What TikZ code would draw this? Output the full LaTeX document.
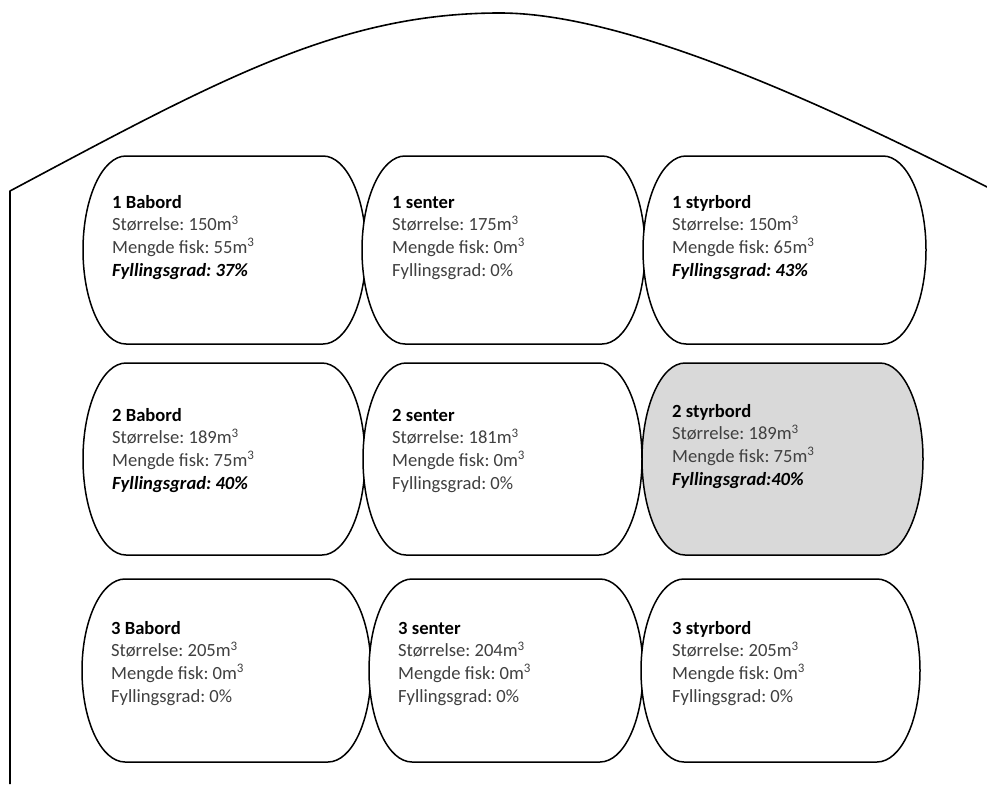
\documentclass[tikz,border=0pt]{standalone}
\usepackage{fontspec}
\setmainfont{Carlito}
\frenchspacing
\definecolor{bodytext}{HTML}{404040}
\definecolor{tankgray}{HTML}{D9D9D9}
\newcommand{\kub}{\raisebox{0.36em}{\fontsize{13}{13}\selectfont 3}}
\newcommand{\tank}[5]{%
  \pgfmathsetmacro{\tmid}{(#3+#4)/2}%
  \pgfmathsetmacro{\tk}{0.5523*(#4-#3)/2}%
  \draw[tankline,#5] ({#1+43},#3) -- ({#2-43},#3)
    .. controls +(23.7,0) and +(0,-\tk) .. (#2,\tmid)
    .. controls +(0,\tk) and +(23.7,0) .. ({#2-43},#4)
    -- ({#1+43},#4)
    .. controls +(-23.7,0) and +(0,\tk) .. (#1,\tmid)
    .. controls +(0,-\tk) and +(-23.7,0) .. ({#1+43},#3) -- cycle;}
\tikzset{
  tankline/.style={draw=black, line width=1.5pt, fill=white},
  hull/.style={draw=black, line width=1.6pt, line join=round},
  info/.style={anchor=base west, inner sep=0pt, font=\fontsize{18.6}{22.8}\selectfont, text=bodytext},
}
\newcommand{\ttl}[1]{\textcolor{black}{\bfseries #1}}
\newcommand{\fyl}[1]{\textcolor{black}{\bfseries\itshape #1}}
\begin{document}
\begin{tikzpicture}[x=1pt,y=-1pt]
\useasboundingbox (0,0) rectangle (987,784);
% hull
\coordinate (hb) at (10,784);
\coordinate (hl) at (10,191);
\coordinate (hp) at (500,13);
\coordinate (hr) at (987,187);
\draw[hull] (hb) -- (hl)
  .. controls (220,79) and (340,13) .. (hp)
  .. controls (620,13) and (807,95) .. (hr);
% tanks
\tank{83}{366}{156}{344}{}
\tank{362}{645}{156}{344}{}
\tank{643}{926}{156}{344}{}
\tank{83}{365}{363}{555}{}
\tank{363}{642}{363}{555}{}
\tank{642}{923}{363}{555}{fill=tankgray}
\tank{82}{371}{579}{762}{}
\tank{369}{643}{579}{762}{}
\tank{641}{920}{579}{762}{}
% texts
\node[info] (t11) at (112,208) {\begin{tabular}[t]{@{}l@{}}\ttl{1 Babord}\\ Størrelse: 150m\kub\\ Mengde fisk: 55m\kub\\ \fyl{Fyllingsgrad: 37\%}\end{tabular}};
\node[info] (t12) at (392,208) {\begin{tabular}[t]{@{}l@{}}\ttl{1 senter}\\ Størrelse: 175m\kub\\ Mengde fisk: 0m\kub\\ Fyllingsgrad: 0\%\end{tabular}};
\node[info] (t13) at (672,208) {\begin{tabular}[t]{@{}l@{}}\ttl{1 styrbord}\\ Størrelse: 150m\kub\\ Mengde fisk: 65m\kub\\ \fyl{Fyllingsgrad: 43\%}\end{tabular}};
\node[info] (t21) at (112,421) {\begin{tabular}[t]{@{}l@{}}\ttl{2 Babord}\\ Størrelse: 189m\kub\\ Mengde fisk: 75m\kub\\ \fyl{Fyllingsgrad: 40\%}\end{tabular}};
\node[info] (t22) at (392,421) {\begin{tabular}[t]{@{}l@{}}\ttl{2 senter}\\ Størrelse: 181m\kub\\ Mengde fisk: 0m\kub\\ Fyllingsgrad: 0\%\end{tabular}};
\node[info] (t23) at (672,417) {\begin{tabular}[t]{@{}l@{}}\ttl{2 styrbord}\\ Størrelse: 189m\kub\\ Mengde fisk: 75m\kub\\ \fyl{Fyllingsgrad:40\%}\end{tabular}};
\node[info] (t31) at (111,634) {\begin{tabular}[t]{@{}l@{}}\ttl{3 Babord}\\ Størrelse: 205m\kub\\ Mengde fisk: 0m\kub\\ Fyllingsgrad: 0\%\end{tabular}};
\node[info] (t32) at (398,634) {\begin{tabular}[t]{@{}l@{}}\ttl{3 senter}\\ Størrelse: 204m\kub\\ Mengde fisk: 0m\kub\\ Fyllingsgrad: 0\%\end{tabular}};
\node[info] (t33) at (672,634) {\begin{tabular}[t]{@{}l@{}}\ttl{3 styrbord}\\ Størrelse: 205m\kub\\ Mengde fisk: 0m\kub\\ Fyllingsgrad: 0\%\end{tabular}};
\end{tikzpicture}
\end{document}
